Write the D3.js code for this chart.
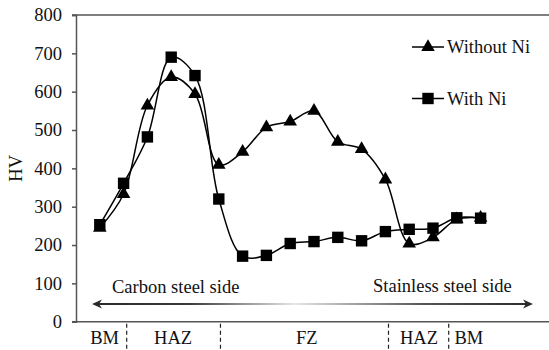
<!DOCTYPE html>
<html>
<head>
<meta charset="utf-8">
<script src="https://cdn.jsdelivr.net/npm/d3@7"></script>
<style>
  body { margin: 0; background: #fff; }
  svg text { font-family: "Liberation Serif", Tinos, "Times New Roman", Times, "DejaVu Serif", serif !important; fill: #111; }
</style>
</head>
<body>
<div id="chart"></div>
<script>
// Measurement positions (1..17 along the weld cross-section)
var positions = [1, 2, 3, 4, 5, 6, 7, 8, 9, 10, 11, 12, 13, 14, 15, 16, 17];
var withoutNi = [245, 333, 564, 638, 594, 409, 443, 507, 522, 550, 469, 450, 371, 204, 220, 267, 271];
var withNi = [253, 361, 482, 690, 642, 320, 171, 173, 204, 209, 220, 211, 235, 241, 244, 271, 270];
var yTicks = [0, 100, 200, 300, 400, 500, 600, 700, 800];

// Zones along the x axis
var zoneDividers = [2.13, 6.07, 13.13, 15.66];
var zoneLabels = ["BM", "HAZ", "FZ", "HAZ", "BM"];
var zoneCentres = [1.2, 4.08, 9.7, 14.41, 16.51];

var width = 549;
var height = 350;
var margin = { top: 15, right: 0, bottom: 28, left: 76 };
var serif = "'Liberation Serif', Tinos, 'Times New Roman', Times, 'DejaVu Serif', serif";

var svg = d3.select("#chart")
  .append("svg")
  .attr("width", width)
  .attr("height", height)
  .attr("font-family", serif);

var x = d3.scaleLinear()
  .domain([0, 20])
  .range([margin.left, 552]);

var y = d3.scaleLinear()
  .domain([0, 800])
  .range([height - margin.bottom - 0.3, margin.top]);

var axisColor = "#555";

// top and bottom frame lines
[800, 0].forEach(function (v) {
  svg.append("line")
    .attr("x1", margin.left - 4)
    .attr("x2", width)
    .attr("y1", y(v))
    .attr("y2", y(v))
    .attr("stroke", axisColor)
    .attr("stroke-width", 1.5);
});

// y axis
var yAxis = svg.append("g")
  .attr("transform", "translate(" + margin.left + ",0)")
  .call(d3.axisLeft(y).tickValues(yTicks).tickSize(4).tickPadding(10));
yAxis.attr("font-family", serif).attr("font-size", "18.5px");
yAxis.select(".domain").attr("stroke", axisColor).attr("stroke-width", 1.5);
yAxis.selectAll(".tick line").attr("stroke", axisColor).attr("stroke-width", 1.5);
yAxis.selectAll("text")
  .style("font-family", serif)
  .style("font-size", "18.5px")
  .attr("fill", "#111");

svg.append("text")
  .attr("transform", "translate(16," + y(400) + ") rotate(-90)")
  .attr("text-anchor", "middle")
  .attr("dy", "0.35em")
  .style("font-family", serif)
  .style("font-size", "18.5px")
  .text("HV");

// zone dividers and labels under the axis
svg.selectAll(".divider")
  .data(zoneDividers)
  .enter().append("line")
  .attr("class", "divider")
  .attr("x1", function (d) { return x(d); })
  .attr("x2", function (d) { return x(d); })
  .attr("y1", y(0) + 2)
  .attr("y2", height)
  .attr("stroke", "#222")
  .attr("stroke-width", 1.2)
  .attr("stroke-dasharray", "4,3");

svg.selectAll(".zone")
  .data(zoneLabels)
  .enter().append("text")
  .attr("class", "zone")
  .attr("x", function (d, i) { return x(zoneCentres[i]); })
  .attr("y", height - 6)
  .attr("text-anchor", "middle")
  .style("font-family", serif)
  .style("font-size", "18.5px")
  .text(function (d) { return d; });

// gradient arrow (carbon steel side <-> stainless steel side)
var defs = svg.append("defs");
var grad = defs.append("linearGradient")
  .attr("id", "arrowGrad")
  .attr("gradientUnits", "userSpaceOnUse")
  .attr("x1", 92).attr("x2", 533)
  .attr("y1", 0).attr("y2", 0);
grad.append("stop").attr("offset", "0%").attr("stop-color", "#2a2a2a");
grad.append("stop").attr("offset", "22%").attr("stop-color", "#3a3a3a");
grad.append("stop").attr("offset", "46%").attr("stop-color", "#e6e6e6");
grad.append("stop").attr("offset", "75%").attr("stop-color", "#555");
grad.append("stop").attr("offset", "100%").attr("stop-color", "#2a2a2a");

var arrowY = 304;
svg.append("line")
  .attr("x1", 98).attr("x2", 527)
  .attr("y1", arrowY).attr("y2", arrowY)
  .attr("stroke", "url(#arrowGrad)")
  .attr("stroke-width", 2.2);
svg.append("path")
  .attr("d", "M92," + arrowY + " L102," + (arrowY - 4.5) + " L99," + arrowY + " L102," + (arrowY + 4.5) + " Z")
  .attr("fill", "#2a2a2a");
svg.append("path")
  .attr("d", "M533," + arrowY + " L523," + (arrowY - 4.5) + " L526," + arrowY + " L523," + (arrowY + 4.5) + " Z")
  .attr("fill", "#2a2a2a");

svg.append("text")
  .attr("x", 112).attr("y", 293)
  .style("font-family", serif)
  .style("font-size", "18.5px")
  .text("Carbon steel side");
svg.append("text")
  .attr("x", 373).attr("y", 292)
  .style("font-family", serif)
  .style("font-size", "18.5px")
  .text("Stainless steel side");

// series
var series = [
  { name: "Without Ni", values: withoutNi, symbol: d3.symbolTriangle, size: 80 },
  { name: "With Ni", values: withNi, symbol: d3.symbolSquare, size: 130 }
];

var line = d3.line()
  .x(function (d) { return x(d[0]); })
  .y(function (d) { return y(d[1]); })
  .curve(d3.curveCatmullRom.alpha(0.5));

series.forEach(function (s) {
  var pts = positions.map(function (p, i) { return [p, s.values[i]]; });
  svg.append("path")
    .datum(pts)
    .attr("fill", "none")
    .attr("stroke", "#000")
    .attr("stroke-width", 1.5)
    .attr("d", line);
  svg.selectAll(null)
    .data(pts)
    .enter().append("path")
    .attr("transform", function (d) { return "translate(" + x(d[0]) + "," + y(d[1]) + ")"; })
    .attr("d", d3.symbol().type(s.symbol).size(s.size))
    .attr("fill", "#000");
});

// legend
var legend = svg.selectAll(".legend")
  .data(series)
  .enter().append("g")
  .attr("class", "legend")
  .attr("transform", function (d, i) { return "translate(412," + (47 + i * 51.5) + ")"; });

legend.append("line")
  .attr("x1", 0).attr("x2", 32)
  .attr("stroke", "#000")
  .attr("stroke-width", 1.5);
legend.append("path")
  .attr("transform", "translate(16,0)")
  .attr("d", function (d) { return d3.symbol().type(d.symbol).size(d.size)(); })
  .attr("fill", "#000");
legend.append("text")
  .attr("x", 35)
  .attr("y", 6)
  .style("font-family", serif)
  .style("font-size", "18.5px")
  .text(function (d) { return d.name; });
</script>
</body>
</html>
